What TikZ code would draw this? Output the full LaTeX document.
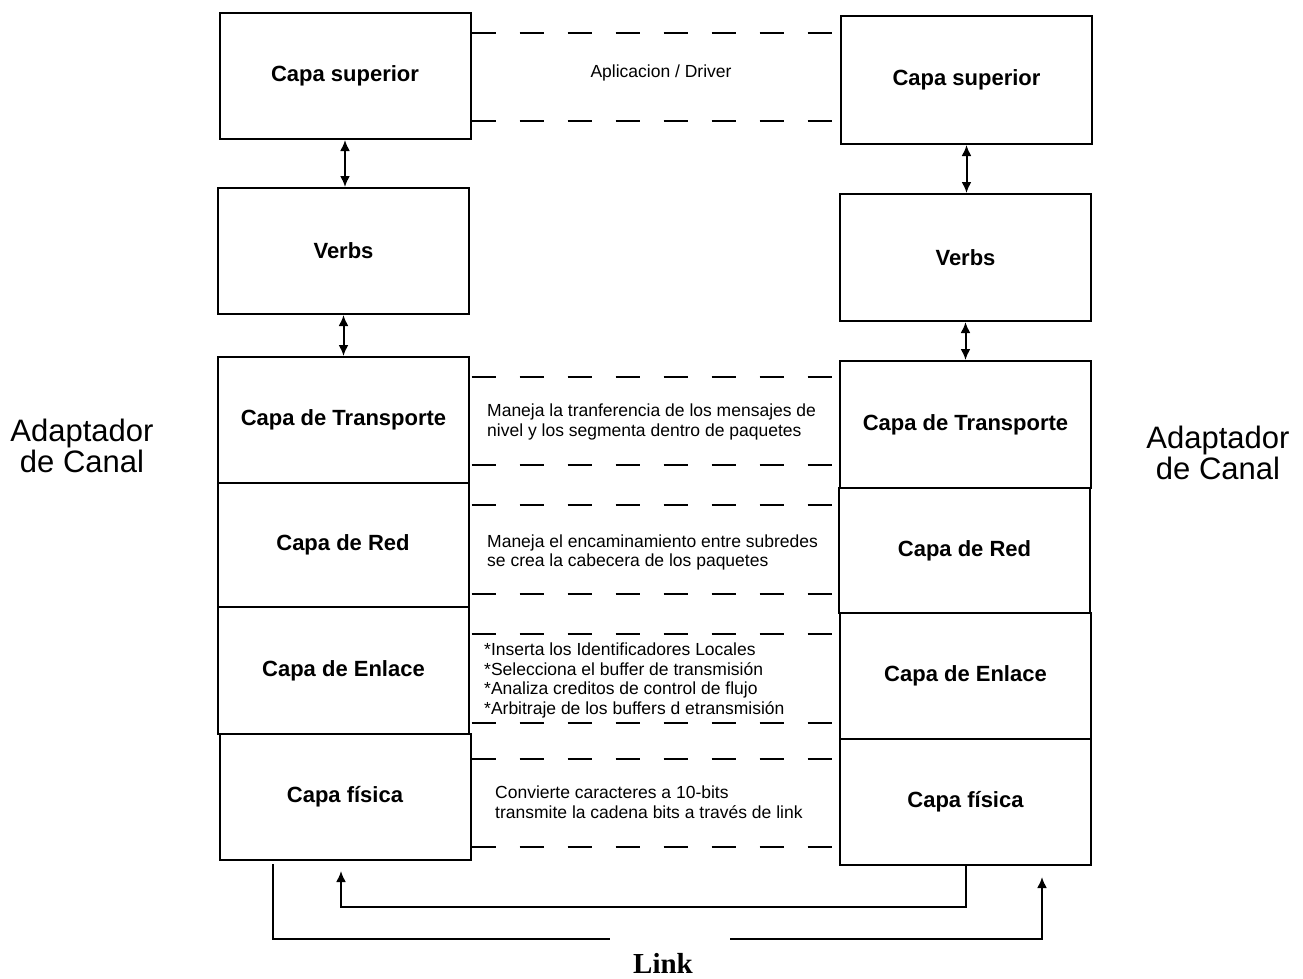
\documentclass[tikz,border=0pt]{standalone}
\usepackage{fontspec}
\setmainfont{Liberation Sans}
\newfontfamily\linkfont{Liberation Serif}
\usetikzlibrary{arrows.meta, positioning, calc}

\begin{document}
\begin{tikzpicture}[
    x=1pt, y=-1pt,
    layer/.style={rectangle, draw=black, line width=2pt, minimum width=251pt,
                  minimum height=126pt, inner sep=0pt,
                  font=\fontsize{22}{26}\selectfont\bfseries},
    note/.style={anchor=west, align=left, inner sep=0pt,
                 font=\fontsize{17.5}{19.8}\selectfont},
    side/.style={align=center, inner sep=0pt, font=\fontsize{31}{31}\selectfont},
    dline/.style={line width=2pt, dash pattern=on 24pt off 24pt},
    both/.style={{Latex[length=11pt,width=10pt]}-{Latex[length=11pt,width=10pt]}, line width=2pt},
    wire/.style={line width=2pt},
    arrow/.style={-{Latex[length=11pt,width=10pt]}, line width=2pt}
]
\useasboundingbox (0,0) rectangle (1303,978);

% Left stack
\node[layer] at (345,76) (supL) {Capa superior};
\node[layer] at (343.5,251) (verbL) {Verbs};
\node[layer] at (343.5,420) (trL) {Capa de Transporte};
\node[layer, minimum height=124pt] at (343,545) (redL) {Capa de Red};
\node[layer, minimum height=127pt] at (343.5,670.5) (enlL) {Capa de Enlace};
\node[layer] at (345,797) (fisL) {Capa física};

% Right stack
\node[layer, minimum height=128pt] at (966.5,80) (supR) {Capa superior};
\node[layer, minimum height=127pt] at (965.5,257.5) (verbR) {Verbs};
\node[layer, minimum height=127pt] at (965.5,424.5) (trR) {Capa de Transporte};
\node[layer, minimum height=125pt] at (964.5,550.5) (redR) {Capa de Red};
\node[layer] at (965.5,676) (enlR) {Capa de Enlace};
\node[layer] at (965.5,802) (fisR) {Capa física};

% Side labels
\node[side] at (82,446) (adL) {Adaptador\\de Canal};
\node[side] at (1218,453) (adR) {Adaptador\\de Canal};

% Peer-to-peer dashed lines
\foreach \y in {33, 121, 377, 465, 505, 594, 634, 723, 759, 847}
    \draw[dline] (supL.east |- 0,\y) -- (supR.west |- 0,\y);

% Middle notes
\node[font=\fontsize{17.5}{19.8}\selectfont] at (661,73) (app) {Aplicacion / Driver};
\node[note] at (487,422) (trN) {Maneja la tranferencia de los mensajes de\\nivel y los segmenta dentro de paquetes};
\node[note] at (487,552.5) (redN) {Maneja el encaminamiento entre subredes\\se crea la cabecera de los paquetes};
\node[note] at (484,680.5) (enlN) {*Inserta los Identificadores Locales\\*Selecciona el buffer de transmisión\\*Analiza creditos de control de flujo\\*Arbitraje de los buffers d etransmisión};
\node[note] at (495,802) (fisN) {Convierte caracteres a 10-bits\\transmite la cadena bits a través de link};

% Vertical interfaces
\draw[both] (supL.south) -- (supL.south |- verbL.north);
\draw[both] (verbL.south) -- (verbL.south |- trL.north);
\draw[both] (supR.south) -- (supR.south |- verbR.north);
\draw[both] (verbR.south) -- (verbR.south |- trR.north);

% Link
\coordinate (gapA) at (610,939);
\coordinate (gapB) at (730,939);
\coordinate (inR) at (1042,877);
\coordinate (inL) at (341,871);
\draw[wire] ([xshift=-72pt, yshift=-3pt]fisL.south) |- (gapA);
\draw[arrow] (gapB) -| (inR);
\draw[arrow] (fisR.south) |- ([yshift=-36pt]inL) -- (inL);
\node[font=\linkfont\fontsize{29}{29}\selectfont\bfseries] at (663,963) (link) {Link};

\end{tikzpicture}
\end{document}
